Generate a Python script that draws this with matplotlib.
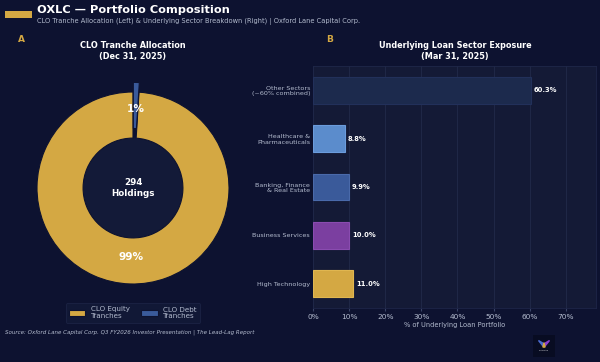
import matplotlib.pyplot as plt
from matplotlib.patches import Rectangle

BG = "#0d1230"
PANEL = "#141a36"
GOLD = "#d4a843"
TXT = "#b4bccf"

# donut data
tranche_labels = ["CLO Equity\nTranches", "CLO Debt\nTranches"]
tranche_values = [99, 1]
tranche_colors = [GOLD, "#3a5a9a"]
holdings = 294

# bar data (bottom to top)
sectors = ["High Technology", "Business Services", "Banking, Finance\n& Real Estate",
           "Healthcare &\nPharmaceuticals", "Other Sectors\n(~60% combined)"]
sector_values = [11.0, 10.0, 9.9, 8.8, 60.3]
sector_colors = [GOLD, "#7b3fa0", "#3a5a9a", "#5b8ccc", "#1c2a4d"]
xticks = [0, 10, 20, 30, 40, 50, 60, 70]

fig = plt.figure(figsize=(6, 3.62), dpi=100, facecolor=BG)

# header
fig.patches.append(Rectangle((5/600, 1-18/362), 27/600, 7/362, transform=fig.transFigure,
                             facecolor=GOLD, edgecolor="none"))
fig.text(37/600, 1-10/362, "OXLC \u2014 Portfolio Composition", color="white",
         fontsize=8.2, fontweight="bold", va="center", ha="left")
fig.text(37/600, 1-21.5/362, "CLO Tranche Allocation (Left) & Underlying Sector Breakdown (Right) | Oxford Lane Capital Corp.",
         color=TXT, fontsize=4.8, va="center", ha="left")
fig.text(18/600, 1-39/362, "A", color=GOLD, fontsize=6.5, fontweight="bold", va="center")
fig.text(326/600, 1-39/362, "B", color=GOLD, fontsize=6.5, fontweight="bold", va="center")

# donut
r = 1.15
axp = fig.add_axes([133/600 - 96*r/600, 1-188/362 - 96*r/362, 2*96*r/600, 2*96*r/362])
axp.set_facecolor(BG)
wedges, texts, autotexts = axp.pie(tranche_values, colors=tranche_colors, startangle=90,
                                   explode=[0, 0.1], autopct="%1.0f%%", pctdistance=0.72,
                                   wedgeprops=dict(width=0.48, edgecolor=BG, linewidth=0.8),
                                   textprops=dict(color="white", fontsize=7.6, fontweight="bold"))
axp.add_patch(plt.Circle((0, 0), 0.52, color="#131a38", zorder=0))
axp.text(0, 0, f"{holdings}\nHoldings", color="white", fontsize=6.3, fontweight="bold",
         ha="center", va="center")
axp.set_xlim(-r, r)
axp.set_ylim(-r, r)
axp.set_aspect("auto")
axp.axis("off")
fig.text(133/600, 1-51/362, "CLO Tranche Allocation\n(Dec 31, 2025)", color="white",
         fontsize=5.9, fontweight="bold", ha="center", va="center", linespacing=1.2)

leg = fig.legend(wedges, tranche_labels, loc="center", bbox_to_anchor=(133/600, 1-313/362),
                 ncol=2, fontsize=5.1, frameon=True, facecolor="#131a38", edgecolor="#1e2648",
                 labelcolor=TXT, handlelength=2.3, handleheight=0.9, columnspacing=1.6,
                 borderpad=0.45, handletextpad=0.8)
leg.get_frame().set_linewidth(0.6)

# bars
axb = fig.add_axes([313/600, 1-308/362, 283/600, 242/362])
axb.set_facecolor(PANEL)
ypos = list(range(len(sectors)))
axb.barh(ypos, sector_values, height=0.55, color=sector_colors,
         edgecolor=["#e0b650", "#8a4cb0", "#4a6aaa", "#6b9cdc", "#22305a"], linewidth=0.8, zorder=3)
for y, v in zip(ypos, sector_values):
    axb.text(v + 0.9, y, f"{v:.1f}%", color="white", fontsize=4.9, fontweight="bold",
             va="center", ha="left", zorder=4)
axb.set_yticks(ypos)
axb.set_yticklabels(sectors, fontsize=4.6, color=TXT, linespacing=1.15)
axb.set_xticks(xticks)
axb.set_xticklabels([f"{t}%" for t in xticks], fontsize=5.3, color=TXT)
axb.set_xlim(0, max(sector_values) * 1.3)
axb.set_ylim(-0.5, 4.5)
axb.grid(axis="x", color="#222a4a", linewidth=0.6, zorder=0)
axb.tick_params(axis="y", length=0, pad=2)
axb.tick_params(axis="x", length=2, color="#3a4466", pad=2)
for s in axb.spines.values():
    s.set_color("#1e2648")
    s.set_linewidth(0.6)
axb.set_xlabel("% of Underlying Loan Portfolio", color=TXT, fontsize=4.8, labelpad=2)
fig.text(455/600, 1-51/362, "Underlying Loan Sector Exposure\n(Mar 31, 2025)", color="white",
         fontsize=5.9, fontweight="bold", ha="center", va="center", linespacing=1.2)

# footer
fig.text(5/600, 1-332.5/362, "Source: Oxford Lane Capital Corp. Q3 FY2026 Investor Presentation | The Lead-Lag Report",
         color=TXT, fontsize=4.0, style="italic", va="center", ha="left")

# logo
axl = fig.add_axes([533/600, 1-357/362, 22/600, 22/362])
axl.set_facecolor("#080c22")
axl.set_xticks([])
axl.set_yticks([])
for s in axl.spines.values():
    s.set_visible(False)
axl.set_xlim(0, 1)
axl.set_ylim(0, 1)
axl.fill([0.25, 0.45, 0.5], [0.75, 0.5, 0.6], color="#4a6ad0")
axl.fill([0.75, 0.55, 0.5], [0.75, 0.5, 0.6], color="#8a3fd0")
axl.fill([0.45, 0.55, 0.5], [0.45, 0.45, 0.65], color=GOLD)
axl.text(0.5, 0.3, "LEADLAG", color="white", fontsize=1.5, ha="center", va="center")

fig.savefig("out.png", dpi=100, facecolor=BG)
